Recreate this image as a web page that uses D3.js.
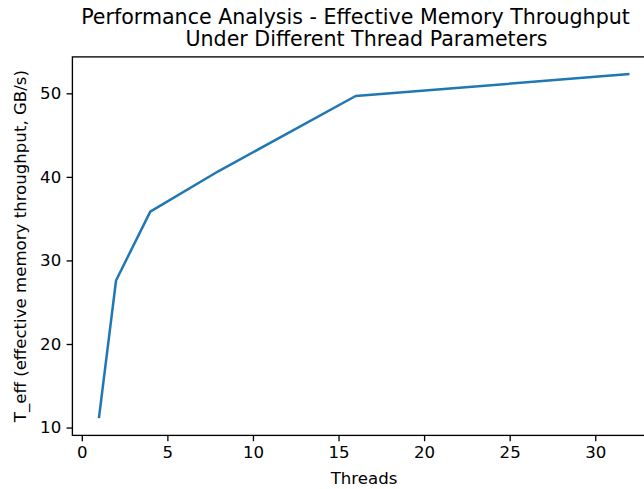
<!DOCTYPE html>
<html><head><meta charset="utf-8">
<script src="https://cdn.jsdelivr.net/npm/d3@7"></script>
<style>body{margin:0;background:#fff;}text{font-family:"DejaVu Sans",sans-serif;fill:#000;}</style>
</head><body>
<script>
const threads = [1, 2, 4, 8, 16, 32];
const teff = [11.12, 27.6, 35.84, 40.7, 49.68, 52.3];
const xTicks = [0, 5, 10, 15, 20, 25, 30];
const yTicks = [10, 20, 30, 40, 50];
const titleLines = ["Performance Analysis - Effective Memory Throughput", "Under Different Thread Parameters"];

const W = 644, H = 489;
const L = 72.4, R = 656, T = 56.9, B = 435.4;
const svg = d3.select("body").append("svg").attr("width", W).attr("height", H);

const xmin = d3.min(threads), xmax = d3.max(threads), xm = (xmax - xmin) * 0.05;
const ymin = d3.min(teff), ymax = d3.max(teff), ym = (ymax - ymin) * 0.05;
const x = d3.scaleLinear().domain([xmin - xm, xmax + xm]).range([L, R]);
const y = d3.scaleLinear().domain([ymin - ym, ymax + ym]).range([B, T]);

const xa = svg.append("g").attr("transform", `translate(0,${B})`)
  .call(d3.axisBottom(x).tickValues(xTicks).tickSize(5.8).tickPadding(5).tickFormat(d3.format("d")));
const ya = svg.append("g").attr("transform", `translate(${L},0)`)
  .call(d3.axisLeft(y).tickValues(yTicks).tickSize(5.8).tickPadding(5.4).tickFormat(d3.format("d")));
[xa, ya].forEach(g => {
  g.select(".domain").remove();
  g.selectAll(".tick line").attr("stroke", "#000").attr("stroke-width", 1.33);
  g.selectAll(".tick text").attr("font-size", "16.6px").attr("font-family", "DejaVu Sans").attr("fill", "#000");
});

svg.append("rect").attr("x", L).attr("y", T).attr("width", R - L).attr("height", B - T)
  .attr("fill", "none").attr("stroke", "#000").attr("stroke-width", 1.33);

svg.append("path").datum(threads.map((t, i) => [t, teff[i]]))
  .attr("fill", "none").attr("stroke", "#1f77b4").attr("stroke-width", 2.5)
  .attr("stroke-linejoin", "round").attr("stroke-linecap", "butt")
  .attr("d", d3.line().x(d => x(d[0])).y(d => y(d[1])));

svg.append("text").attr("x", 355.5).attr("y", 24.3).attr("text-anchor", "middle").attr("font-size", "20.6px").text(titleLines[0]);
svg.append("text").attr("x", 366.5).attr("y", 45.8).attr("text-anchor", "middle").attr("font-size", "20.6px").text(titleLines[1]);

svg.append("text").attr("x", 364).attr("y", 484).attr("text-anchor", "middle").attr("font-size", "16.6px").text("Threads");
svg.append("text").attr("transform", `translate(25.5,${(T + B) / 2}) rotate(-90)`)
  .attr("text-anchor", "middle").attr("font-size", "16.6px").text("T_eff (effective memory throughput, GB/s)");
</script>
</body></html>
